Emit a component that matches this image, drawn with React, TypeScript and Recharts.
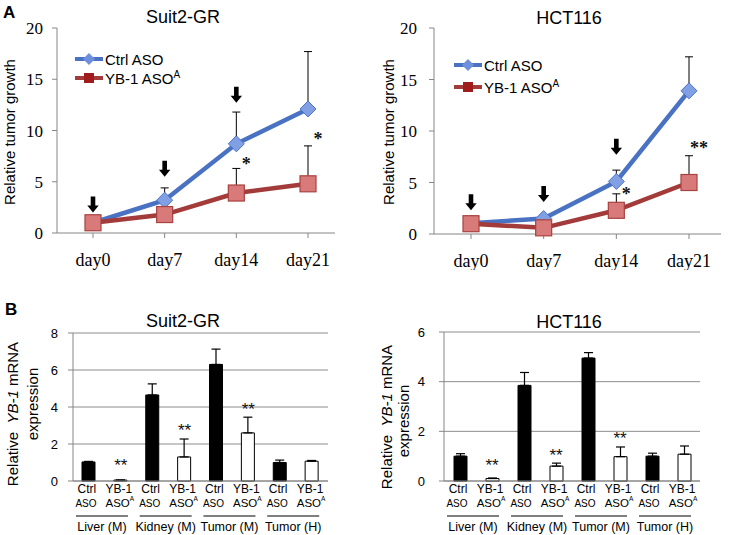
import React from 'react'
import {
  LineChart, Line, BarChart, Bar, Cell, XAxis, YAxis, CartesianGrid,
  ErrorBar, ReferenceDot, Label,
} from 'recharts'

const SANS = "'Liberation Sans', Arial, sans-serif"
const SERIF = "'Liberation Serif', 'Times New Roman', serif"

// ---- panel A : relative tumor growth ----
const days = ['day0', 'day7', 'day14', 'day21']

const suitCtrl = [1.0, 3.2, 8.7, 12.1]
const suitCtrlErr = [0, 1.2, 3.1, 5.6]
const suitYb1 = [1.0, 1.8, 3.9, 4.8]
const suitYb1Err = [0, 0, 2.4, 3.7]

const hctCtrl = [1.05, 1.5, 5.1, 13.9]
const hctCtrlErr = [0, 0.2, 1.1, 3.3]
const hctYb1 = [1.0, 0.6, 2.3, 5.0]
const hctYb1Err = [0, 0, 1.6, 2.6]

// injection arrows: day + value of the arrow tip
const arrowDays = ['day0', 'day7', 'day14']
const suitArrowTips = [2.0, 5.5, 12.7]
const hctArrowTips = [2.3, 3.1, 7.7]

const suitStars = [
  { day: 'day14', y: 6.9, text: '*' },
  { day: 'day21', y: 9.4, text: '*' },
]
const hctStars = [
  { day: 'day14', y: 4.1, text: '*' },
  { day: 'day21', y: 8.6, text: '**' },
]

const growthTicks = [0, 5, 10, 15, 20]

// ---- panel B : YB-1 mRNA expression ----
const tissues = ['Liver (M)', 'Kidney (M)', 'Tumor (M)', 'Tumor (H)']
const treatments = ['Ctrl', 'YB-1']

const suitMrna = [1.03, 0.05, 4.65, 1.3, 6.3, 2.6, 1.0, 1.07]
const suitMrnaErr = [0.03, 0, 0.6, 0.97, 0.83, 0.85, 0.13, 0.04]
const suitMrnaStars = [{ bar: 1, y: 0.97 }, { bar: 3, y: 2.86 }, { bar: 5, y: 4.0 }]
const suitMrnaTicks = [0, 2, 4, 6, 8]

const hctMrna = [1.0, 0.1, 3.85, 0.6, 4.95, 0.98, 1.0, 1.08]
const hctMrnaErr = [0.1, 0.02, 0.52, 0.12, 0.22, 0.39, 0.12, 0.33]
const hctMrnaStars = [{ bar: 1, y: 0.73 }, { bar: 3, y: 1.13 }, { bar: 5, y: 1.78 }]
const hctMrnaTicks = [0, 2, 4, 6]

const BLUE = '#4A72C2'
const RED = '#A23B3A'
const AXIS = '#868686'

function growthRows(ctrl: number[], ctrlErr: number[], yb1: number[], yb1Err: number[]) {
  return days.map((d, i) => ({
    day: d,
    ctrl: ctrl[i],
    ctrlErr: [0, ctrlErr[i]],
    yb1: yb1[i],
    yb1Err: [0, yb1Err[i]],
  }))
}

const barKey = (i: number) => `${tissues[Math.floor(i / 2)]}|${treatments[i % 2]}`

function mrnaRows(vals: number[], errs: number[]) {
  return vals.map((v, i) => ({ key: barKey(i), value: v, err: [0, errs[i]] }))
}

function Diamond({ cx, cy }: any) {
  const s = 8
  return (
    <path d={`M${cx},${cy - s} L${cx + s},${cy} L${cx},${cy + s} L${cx - s},${cy} Z`}
      fill="#819FE3" stroke="#4E73C7" strokeWidth={1} />
  )
}

function Square({ cx, cy }: any) {
  return <rect x={cx - 8} y={cy - 8} width={16} height={16} fill="#D97A7A" stroke="#A9413F" strokeWidth={1.2} />
}

function ArrowDown({ cx, cy }: any) {
  return (
    <path d={`M${cx - 2.3},${cy - 16} h4.6 v9 h3.4 l-5.7,7 l-5.7,-7 h3.4 z`} fill="#000" />
  )
}

function StarText({ cx, cy, text, dx = 0, serif }: any) {
  const fs = serif ? 18 : 17
  return (
    <text x={cx + dx} y={cy + fs * 0.45} textAnchor="middle" fontSize={fs}
      fontWeight={serif ? 'bold' : 'normal'} fontFamily={serif ? SERIF : SANS} fill="#111">
      {text}
    </text>
  )
}

function RotatedLines({ lines }: { lines: { x: number; y: number; content: React.ReactNode }[] }) {
  return (
    <g fontFamily={SANS} fontSize={15} fill="#000">
      {lines.map((l, i) => (
        <text key={i} x={l.x} y={l.y} textAnchor="middle" dominantBaseline="central"
          transform={`rotate(-90 ${l.x} ${l.y})`}>
          {l.content}
        </text>
      ))}
    </g>
  )
}

const growthSeries = [
  { key: 'ctrl', name: 'Ctrl ASO', sup: '' },
  { key: 'yb1', name: 'YB-1 ASO', sup: 'A' },
]

function GrowthLegend({ left, top, gap }: { left: number; top: number; gap: number }) {
  return (
    <div style={{ position: 'absolute', left, top, fontFamily: SANS, fontSize: 15 }}>
      {growthSeries.map((s, i) => (
        <div key={s.key} style={{ position: 'absolute', left: 0, top: i * gap, height: 18, display: 'flex', alignItems: 'center', whiteSpace: 'nowrap' }}>
          <svg width={29} height={18}>
            <line x1={0} x2={28} y1={9} y2={9} stroke={s.key === 'ctrl' ? BLUE : RED} strokeWidth={4} />
            {s.key === 'ctrl'
              ? <path d="M14,3 L20,9 L14,15 L8,9 Z" fill="#6F8EDC" />
              : <rect x={9} y={4} width={10} height={10} fill="#A01C1C" />}
          </svg>
          <span style={{ marginLeft: 1 }}>
            {s.name}
            {s.sup && <sup style={{ fontSize: 10 }}>{s.sup}</sup>}
          </span>
        </div>
      ))}
    </div>
  )
}

function GrowthChart({ data, arrowTips, stars, width, margin, padding, yTickMargin, labelX }: any) {
  return (
    <LineChart width={width} height={270} data={data} margin={margin}>
      <XAxis dataKey="day" scale="point" padding={padding} height={30}
        axisLine={{ stroke: AXIS }} tickLine={{ stroke: AXIS }} tickSize={5} tickMargin={15}
        tick={{ fill: '#000', fontSize: 18, fontFamily: SERIF }} interval={0} />
      <YAxis domain={[0, 20]} ticks={growthTicks} width={40}
        axisLine={{ stroke: AXIS }} tickLine={{ stroke: AXIS }} tickSize={5} tickMargin={yTickMargin}
        tick={{ fill: '#000', fontSize: 17, fontFamily: SERIF }}>
        <Label content={() => (
          <RotatedLines lines={[{ x: labelX, y: 132, content: 'Relative tumor growth' }]} />
        )} />
      </YAxis>
      <Line dataKey="ctrl" name="Ctrl ASO" stroke={BLUE} strokeWidth={4.5}
        dot={(p: any) => <Diamond key={p.index} {...p} />} activeDot={false} isAnimationActive={false}>
        <ErrorBar dataKey="ctrlErr" direction="y" width={4} stroke="#000" strokeWidth={1} />
      </Line>
      <Line dataKey="yb1" name="YB-1 ASO" stroke={RED} strokeWidth={4.5}
        dot={(p: any) => <Square key={p.index} {...p} />} activeDot={false} isAnimationActive={false}>
        <ErrorBar dataKey="yb1Err" direction="y" width={4} stroke="#000" strokeWidth={1} />
      </Line>
      {arrowDays.map((d, i) => (
        <ReferenceDot key={d} x={d} y={arrowTips[i]} shape={(p: any) => <ArrowDown {...p} />} />
      ))}
      {stars.map((s: any) => (
        <ReferenceDot key={s.day} x={s.day} y={s.y}
          shape={(p: any) => <StarText {...p} text={s.text} dx={10} serif />} />
      ))}
    </LineChart>
  )
}

function MrnaTick({ x, y, payload }: any) {
  const [tissue, treatment] = String(payload.value).split('|')
  const ctrl = treatment === 'Ctrl'
  return (
    <g fontFamily={SANS} fill="#000">
      <text x={x - 2} y={y + 12} textAnchor="middle" fontSize={12}>{ctrl ? 'Ctrl' : 'YB-1'}</text>
      {ctrl
        ? <text x={x - 3} y={y + 26} textAnchor="middle" fontSize={10}>ASO</text>
        : <text x={x - 1} y={y + 26} textAnchor="middle" fontSize={11.5}>ASO<tspan fontSize={6.5} dy={-6}>A</tspan></text>}
      {ctrl && (
        <>
          <line x1={x - 13} x2={x + 39} y1={y + 35} y2={y + 35} stroke="#000" strokeWidth={1} />
          <text x={x + 13} y={y + 50} textAnchor="middle" fontSize={12.5}>{tissue}</text>
        </>
      )}
    </g>
  )
}

function MrnaChart({ data, max, ticks, stars, width, margin, yTickMargin, labelLines }: any) {
  return (
    <BarChart width={width} height={265} data={data} margin={margin}>
      <CartesianGrid horizontal vertical={false} stroke="#8C8C8C" />
      <XAxis dataKey="key" height={54} axisLine={{ stroke: AXIS }} tickLine={false}
        tickSize={0} tickMargin={0} interval={0} tick={<MrnaTick />} />
      <YAxis domain={[0, max]} ticks={ticks} width={40}
        axisLine={{ stroke: AXIS }} tickLine={{ stroke: AXIS }} tickSize={5} tickMargin={yTickMargin}
        tick={{ fill: '#000', fontSize: 13, fontFamily: SANS }}>
        <Label content={() => <RotatedLines lines={labelLines} />} />
      </YAxis>
      <Bar dataKey="value" barSize={13} isAnimationActive={false}>
        {data.map((d: any, i: number) => (
          <Cell key={d.key} fill={i % 2 === 0 ? '#000' : '#fff'} stroke="#000" strokeWidth={1} />
        ))}
        <ErrorBar dataKey="err" direction="y" width={4.5} stroke="#000" strokeWidth={1.2} />
      </Bar>
      {stars.map((s: any) => (
        <ReferenceDot key={s.bar} x={barKey(s.bar)} y={s.y}
          shape={(p: any) => <StarText {...p} text="**" />} />
      ))}
    </BarChart>
  )
}

const yb1Label = (
  <>
    Relative{'\u00a0 '}<tspan fontStyle="italic">YB-1</tspan> mRNA
  </>
)

function Title({ cx, cy, text }: { cx: number; cy: number; text: string }) {
  return (
    <div style={{ position: 'absolute', left: cx - 100, top: cy - 11, width: 200, textAlign: 'center', fontFamily: SANS, fontSize: 18, lineHeight: '22px' }}>
      {text}
    </div>
  )
}

export default function App() {
  const suitData = growthRows(suitCtrl, suitCtrlErr, suitYb1, suitYb1Err)
  const hctData = growthRows(hctCtrl, hctCtrlErr, hctYb1, hctYb1Err)
  return (
    <div style={{ position: 'absolute', left: 0, top: 0, width: 729, height: 535, background: '#fff', overflow: 'hidden' }}>
      <div style={{ position: 'absolute', left: 0, top: 0 }}>
        <GrowthChart data={suitData} arrowTips={suitArrowTips} stars={suitStars} width={364}
          margin={{ top: 28, right: 29, bottom: 7, left: 17 }} padding={{ left: 36, right: 27 }}
          yTickMargin={9} labelX={9} />
      </div>
      <div style={{ position: 'absolute', left: 364, top: 0 }}>
        <GrowthChart data={hctData} arrowTips={hctArrowTips} stars={hctStars} width={365}
          margin={{ top: 28, right: 8, bottom: 6, left: 30 }} padding={{ left: 37, right: 32 }}
          yTickMargin={12} labelX={24} />
      </div>
      <GrowthLegend left={75} top={50} gap={19} />
      <GrowthLegend left={454} top={56} gap={22} />

      <div style={{ position: 'absolute', left: 0, top: 270 }}>
        <MrnaChart data={mrnaRows(suitMrna, suitMrnaErr)} max={8} ticks={suitMrnaTicks} stars={suitMrnaStars}
          width={364} margin={{ top: 63, right: 36, bottom: 0, left: 33 }} yTickMargin={10}
          labelLines={[{ x: 12, y: 144, content: yb1Label }, { x: 32, y: 134, content: 'expression' }]} />
      </div>
      <div style={{ position: 'absolute', left: 364, top: 270 }}>
        <MrnaChart data={mrnaRows(hctMrna, hctMrnaErr)} max={6} ticks={hctMrnaTicks} stars={hctMrnaStars}
          width={365} margin={{ top: 62, right: 29, bottom: 0, left: 40 }} yTickMargin={14}
          labelLines={[{ x: 22, y: 147, content: yb1Label }, { x: 39, y: 151, content: 'expression' }]} />
      </div>

      <Title cx={183} cy={17} text="Suit2-GR" />
      <Title cx={569} cy={18} text="HCT116" />
      <Title cx={183} cy={321} text="Suit2-GR" />
      <Title cx={569} cy={322} text="HCT116" />
      <div style={{ position: 'absolute', left: 3, top: 3, fontFamily: SANS, fontWeight: 'bold', fontSize: 17 }}>A</div>
      <div style={{ position: 'absolute', left: 5, top: 300, fontFamily: SANS, fontWeight: 'bold', fontSize: 17 }}>B</div>
    </div>
  )
}
